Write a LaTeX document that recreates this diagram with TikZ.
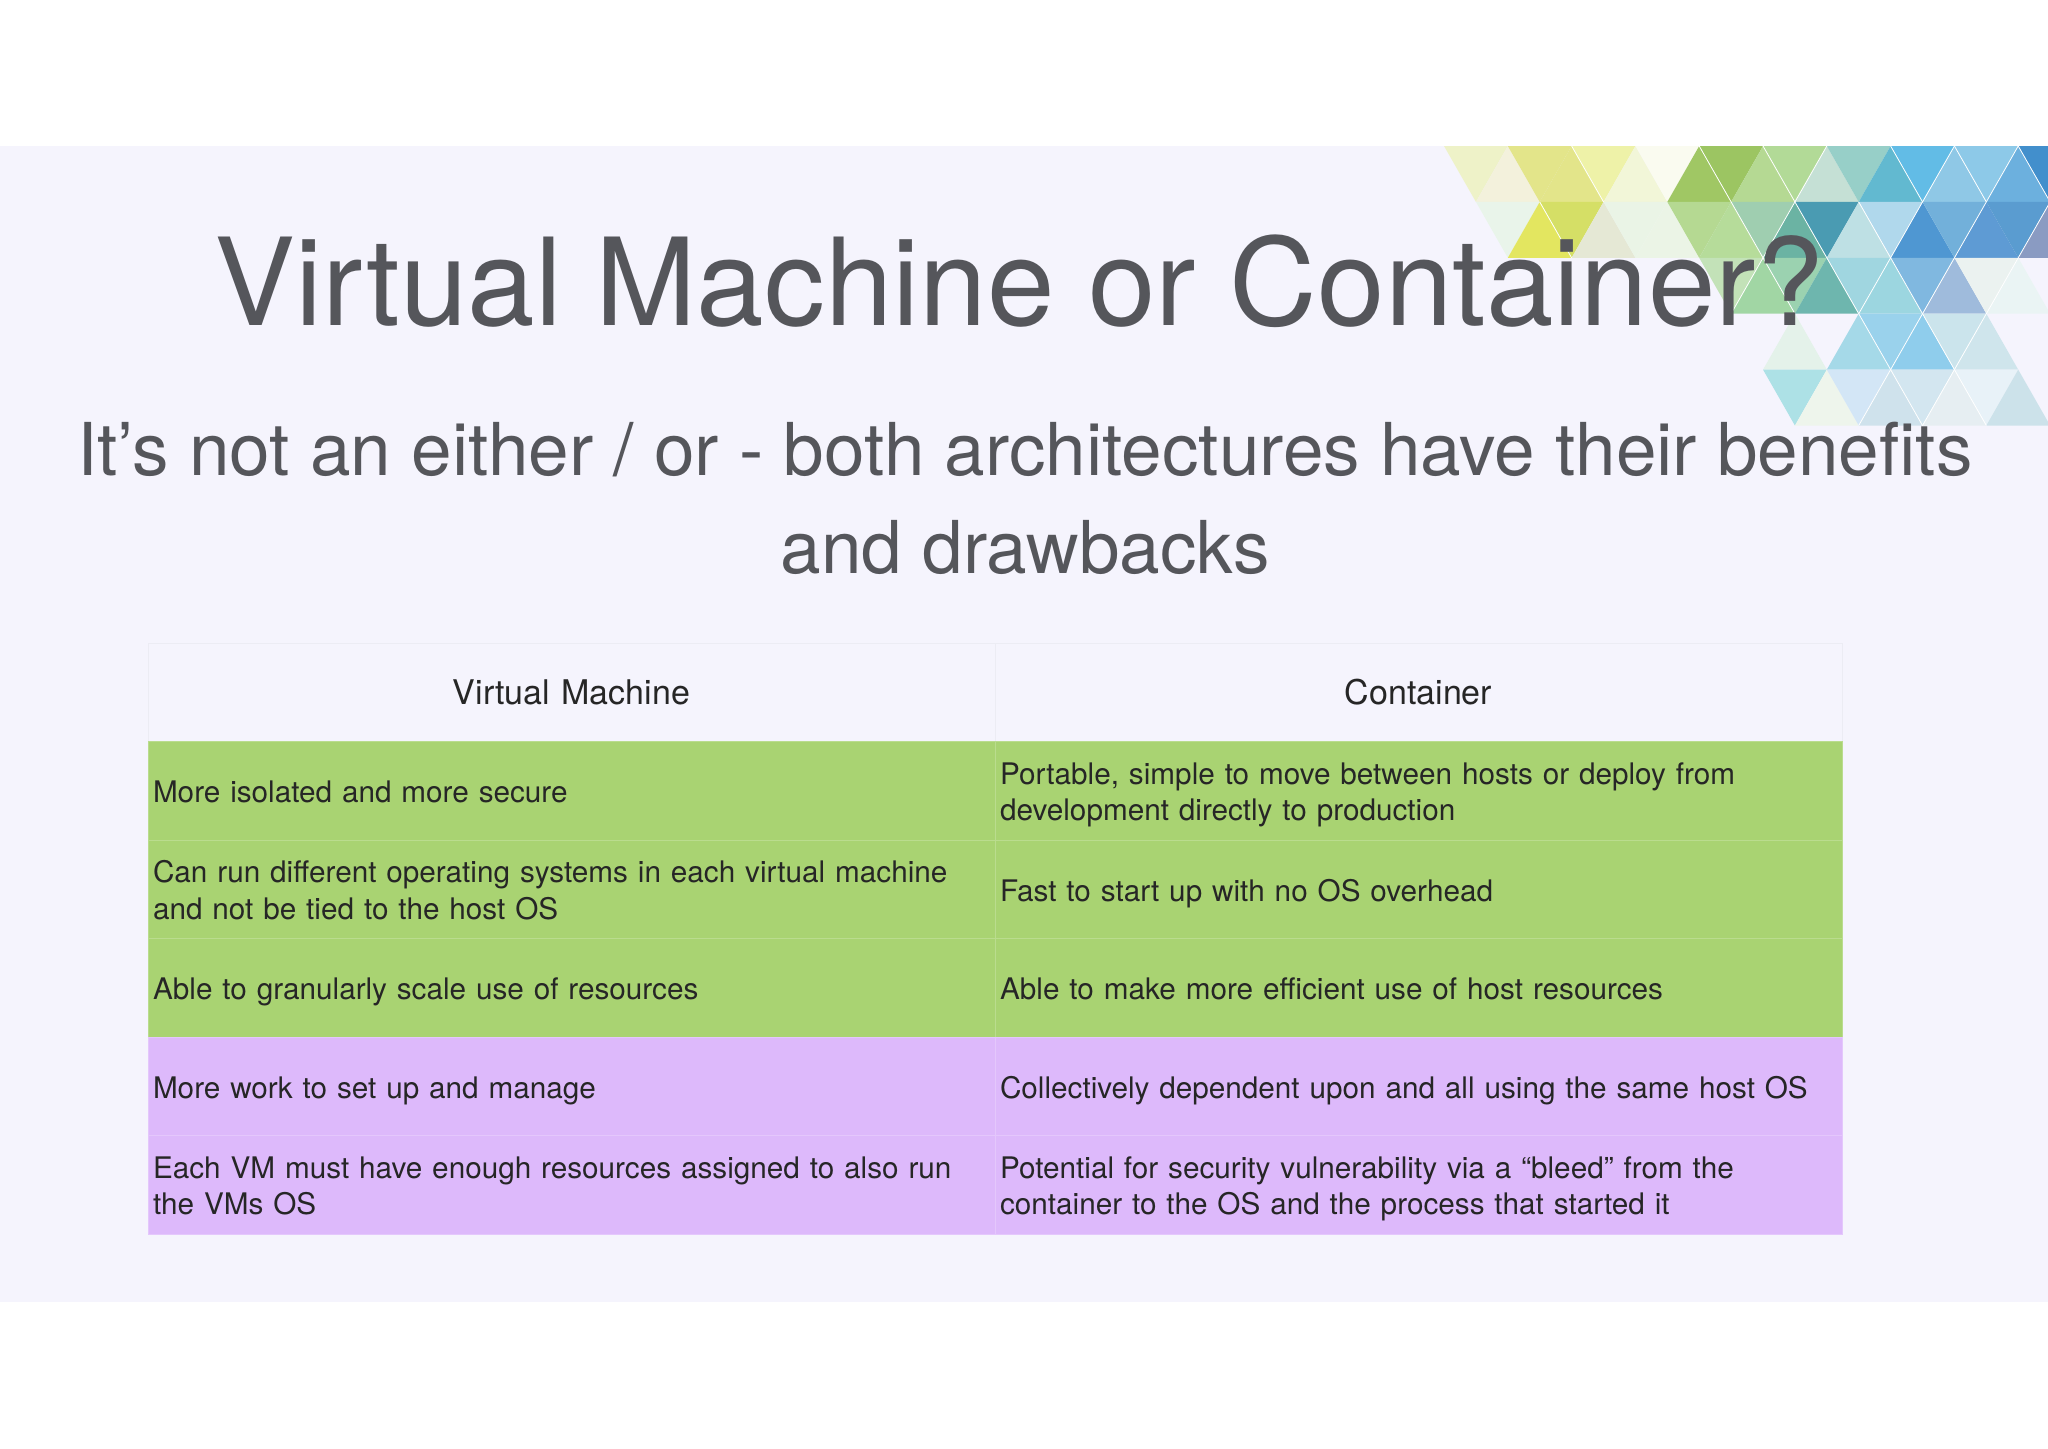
\documentclass[tikz,border=0pt]{standalone}
\usepackage{fontspec}
\setmainfont{TeX Gyre Heros}
\usepackage{tikz}
\usetikzlibrary{positioning}
\definecolor{slidebg}{HTML}{F5F4FD}
\definecolor{titlegrey}{HTML}{55565B}
\definecolor{cellgreen}{HTML}{A9D372}
\definecolor{cellpurple}{HTML}{DDB9FB}
\definecolor{rulegrey}{HTML}{ECECF4}
\tikzstyle{cell} = [rectangle, inner xsep=2.5pt, inner ysep=0pt, outer sep=0pt, minimum height=49.25pt, minimum width=423.5pt, text width=418.5pt, align=left, font=\fontsize{14.85}{18.3}\selectfont, text=black!85, execute at begin node=\rule{0pt}{17.4pt}, execute at end node=\strut]
\tikzstyle{head} = [cell, draw=rulegrey, align=center, font=\fontsize{17}{18.3}\selectfont]
\tikzstyle{good} = [cell, fill=cellgreen, draw=cellgreen!80!white]
\tikzstyle{bad} = [cell, fill=cellpurple, draw=cellpurple!80!white]
\tikzstyle{bigtext} = [text=titlegrey, inner sep=0pt, align=center]

\begin{document}
\begin{tikzpicture}[x=0.5pt,y=-0.5pt,node distance=0pt]
    \useasboundingbox (0,0) rectangle (2048,1448);
    \fill [white] (0,0) rectangle (2048,1448);
    \fill [slidebg] (0,146) rectangle (2048,1302);

    % triangles top right
    \begin{scope}[shift={(1444,146)},x=15.95pt,y=-27.95pt]
    \foreach \u/\r/\c in {1/0/EEF2C8,2/0/F3F1DC,3/0/E3E58A,4/0/E3E58A,5/0/EEF2A8,6/0/F2F6D8,7/0/FAFBF0,
        8/0/A0C764,9/0/9CC562,10/0/B5D993,11/0/B2DA97,12/0/C5E0D5,13/0/97CFC8,14/0/62B9D0,15/0/62BCE6,
        16/0/8FC8E6,17/0/8DC9E8,18/0/6CB0DE,19/0/428FCC,
        2/1/E9F4EA,3/1/E3E660,4/1/D5DF66,5/1/E5E8D5,6/1/EAF4E6,7/1/EBF4E6,8/1/B5D992,9/1/B6DC9A,
        10/1/9FCEB0,11/1/6BB3A3,12/1/4A9BB2,13/1/BEE0E4,14/1/B0D8EC,15/1/4F97D2,16/1/72B0DA,
        17/1/5E9BD4,18/1/5A9CD0,19/1/8A9BC2,
        9/2/C3E2B8,10/2/A1D6A4,11/2/9BD2B0,12/2/6EB6AE,13/2/A0D6E0,14/2/9CD6E0,15/2/80B8E0,
        16/2/9FBBDC,17/2/EBF2F0,18/2/EAF4F4,
        11/3/E4F2EA,13/3/A5D9E8,14/3/9AD2EC,15/3/8FCDEC,16/3/CBE4EC,17/3/CFE5EC,
        11/4/ADE1E6,12/4/EEF5EC,13/4/D3E6F6,14/4/CFE2EC,15/4/D3E6F0,16/4/E6EEF2,17/4/E8F2F8,18/4/CCE2EA}
    {
        \definecolor{tricolor}{HTML}{\c}
        \pgfmathtruncatemacro\dn{mod(\u+\r,2)}
        \pgfmathtruncatemacro\ya{\r+\dn}
        \pgfmathtruncatemacro\yb{\r+1-\dn}
        \fill [tricolor] (\u,\ya) -- (\u-1,\yb) -- (\u+1,\yb) -- cycle;
    }
    \foreach \a/\b/\p/\q in {8/0/11/3,10/0/15/5,14/0/15/1,16/0/17/1,18/0/19/1,13/1/17/5,4/0/5/1,3/1/4/2,
        12/0/9/3,16/0/13/3,18/0/13/5,19/1/15/5}
        \draw [white, line width=0.4pt] (\a,\b) -- (\p,\q);
    \end{scope}

    \node [bigtext, font=\fontsize{60.7}{64}\selectfont] (title) at (1019,281) {Virtual Machine or Container?};
    \node [bigtext, font=\fontsize{36.45}{49}\selectfont] (subtitle) at (1025,498) {It’s not an either / or - both architectures have their benefits\\and drawbacks};

    % table
    \node [head, anchor=north west] (vm) at (148,643) {Virtual Machine};
    \node [head, right = of vm] (ct) {Container};
    \node [good, below = of vm] (vmA) {More isolated and more secure};
    \node [good, right = of vmA] (ctA) {Portable, simple to move between hosts or deploy from\\development directly to production};
    \node [good, below = of vmA] (vmB) {Can run different operating systems in each virtual machine\\and not be tied to the host OS};
    \node [good, right = of vmB] (ctB) {Fast to start up with no OS overhead};
    \node [good, below = of vmB] (vmC) {Able to granularly scale use of resources};
    \node [good, right = of vmC] (ctC) {Able to make more efficient use of host resources};
    \node [bad, below = of vmC] (vmD) {More work to set up and manage};
    \node [bad, right = of vmD] (ctD) {Collectively dependent upon and all using the same host OS};
    \node [bad, below = of vmD] (vmE) {Each VM must have enough resources assigned to also run\\the VMs OS};
    \node [bad, right = of vmE] (ctE) {Potential for security vulnerability via a “bleed” from the\\container to the OS and the process that started it};
\end{tikzpicture}
\end{document}
